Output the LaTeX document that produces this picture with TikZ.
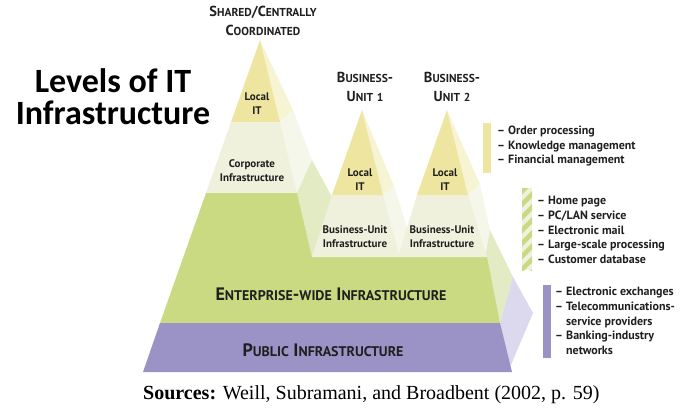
\documentclass[tikz,border=0pt]{standalone}
\usepackage{fontspec}
\setmainfont{Liberation Serif}
\newfontfamily\lblfont[Ligatures=TeX]{PT Sans}
\newfontfamily\ttlfont{Carlito}
\usetikzlibrary{calc}
\definecolor{localit}{HTML}{EEE6A0}
\definecolor{localside}{HTML}{F7F4D4}
\definecolor{corpinf}{HTML}{EFF1DC}
\definecolor{corpside}{HTML}{F6F7EB}
\definecolor{entinf}{HTML}{C9DA83}
\definecolor{entside}{HTML}{E3EBC4}
\definecolor{pubinf}{HTML}{9B92C5}
\definecolor{pubside}{HTML}{DCD8EE}
\definecolor{ink}{HTML}{1F1F1F}
\newcommand\scp[2]{#1{\scsmall #2}}
\tikzset{
  lbl/.style={text=ink, align=center, inner sep=0pt,
    font=\lblfont\bfseries\fontsize{11}{14}\selectfont},
  hdr/.style={text=ink, align=center, inner sep=0pt,
    font=\lblfont\bfseries\fontsize{14.5}{19}\selectfont\def\scsmall{\fontsize{11.5}{19}\selectfont}},
  lvl/.style={text=ink, inner sep=0pt,
    font=\lblfont\bfseries\fontsize{18}{20}\selectfont\def\scsmall{\fontsize{14}{20}\selectfont}},
  lst/.style={text=ink, align=left, anchor=west, inner sep=0pt,
    font=\lblfont\bfseries\fontsize{12}{14.6}\selectfont}
}

\begin{document}
\begin{tikzpicture}[x=1pt, y=-1pt]
  \useasboundingbox (0,0) rectangle (682,408);
  % apexes
  \coordinate (M) at (260, 40);
  \coordinate (B1) at (362, 110);
  \coordinate (B2) at (447, 110);
  % side faces
  \fill[localside] (M) -- (280,122) -- (293,110) -- cycle;
  \fill[corpside] (280,122) -- (293,110) -- (312,160) -- (297,193) -- cycle;
  \fill[entside] (297,193) -- (312,160) -- (332,197) -- (312,257) -- cycle;
  \fill[localside] (B1) -- (383,195) -- (394,186) -- cycle;
  \fill[corpside] (383,195) -- (394,186) -- (412,243) -- (400,257) -- cycle;
  \fill[localside] (B2) -- (468,195) -- (480,184) -- cycle;
  \fill[corpside] (468,195) -- (480,184) -- (490,230) -- (485,257) -- cycle;
  \fill[entside] (485,257) -- (490,230) -- (513,277) -- (500,323) -- cycle;
  \fill[pubside] (500,323) -- (513,277) -- (533,313) -- (508,372) -- cycle;
  % front faces
  \fill[localit] (M) -- (231,122) -- (280,122) -- cycle;
  \fill[corpinf] (231,122) -- (280,122) -- (297,193) -- (206,193) -- cycle;
  \fill[entinf] (206,193) -- (297,193) -- (312,257) -- (487,257) -- (500,323) -- (160,323) -- cycle;
  \fill[pubinf] (160,323) -- (500,323) -- (512,372) -- (143,372) -- cycle;
  \fill[corpinf] (332,195) -- (383,195) -- (400,257) -- (312,257) -- cycle;
  \fill[corpinf] (417,195) -- (468,195) -- (487,257) -- (398,257) -- cycle;
  \fill[localit] (B1) -- (332,195) -- (383,195) -- cycle;
  \fill[localit] (B2) -- (417,195) -- (468,195) -- cycle;
  % labels on the pyramid
  \node[hdr] (shared) at (263,21) {\scp{S}{HARED}/\scp{C}{ENTRALLY}\\\scp{C}{OORDINATED}};
  \node[hdr] (unit1) at (365,87) {\scp{B}{USINESS}-\\\scp{U}{NIT} {\scsmall 1}};
  \node[hdr] (unit2) at (452,87) {\scp{B}{USINESS}-\\\scp{U}{NIT} {\scsmall 2}};
  \node[lbl] (local) at (257,104) {Local\\IT};
  \node[lbl] (corp) at (252,171) {Corporate\\Infrastructure};
  \node[lbl] (local1) at (360,180) {Local\\IT};
  \node[lbl] (local2) at (445,180) {Local\\IT};
  \node[lbl] (buinf1) at (355,237) {Business-Unit\\Infrastructure};
  \node[lbl] (buinf2) at (442,237) {Business-Unit\\Infrastructure};
  \node[lvl] (ent) at (331,294) {\scp{E}{NTERPRISE}-{\scsmall WIDE} \scp{I}{NFRASTRUCTURE}};
  \node[lvl] (pub) at (323,350) {\scp{P}{UBLIC} \scp{I}{NFRASTRUCTURE}};
  % legend bars
  \fill[localit] (483,123) rectangle (491,173);
  \begin{scope}
    \clip (522,188) rectangle (532,270);
    \fill[corpinf] (522,188) rectangle (532,270);
    \foreach \y in {188,201,...,290}
      \fill[entinf] (522,\y) -- (532,\y-10) -- (532,\y-3.5) -- (522,\y+6.5) -- cycle;
  \end{scope}
  \fill[pubinf] (543,285) rectangle (551,358);
  \node[lst] (list1) at (497,146) {– Order processing\\– Knowledge management\\– Financial management};
  \node[lst] (list2) at (537,230) {– Home page\\– PC/LAN service\\– Electronic mail\\– Large-scale processing\\– Customer database};
  \node[lst] (list3) at (555,321) {– Electronic exchanges\\– Telecommunications-\\\phantom{– }service providers\\– Banking-industry\\\phantom{– }networks};
  % title and source
  \node[text=black, align=center, inner sep=0pt, font=\ttlfont\bfseries\fontsize{34}{32}\selectfont] (title) at (113,97) {Levels of IT\\Infrastructure};
  \node[anchor=base west, inner sep=0pt, font=\fontsize{20}{24}\selectfont] (source) at (143,399) {\textbf{Sources:} Weill, Subramani, and Broadbent (2002, p. 59)};
\end{tikzpicture}
\end{document}
